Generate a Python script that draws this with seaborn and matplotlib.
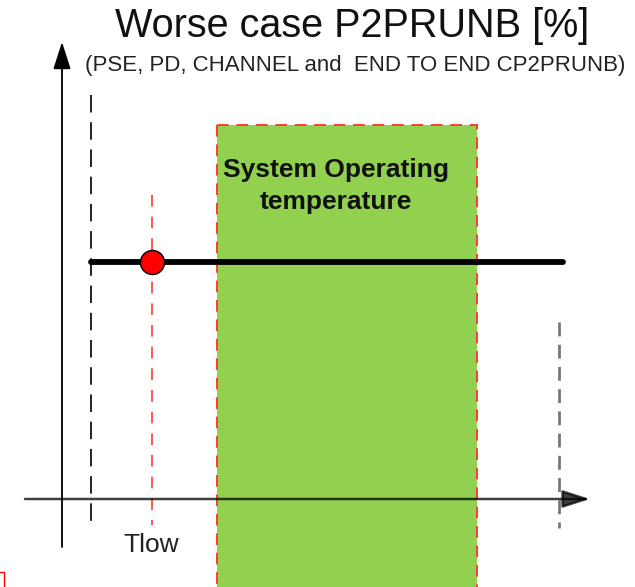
import matplotlib
matplotlib.use("Agg")
import matplotlib.pyplot as plt
import seaborn as sns
import pandas as pd
from matplotlib.patches import Rectangle

# ---- diagram data (pixel-like schematic units; y grows downward) ----
title_text = "Worse case P2PRUNB [%]"
subtitle_text = "(PSE, PD, CHANNEL and  END TO END CP2PRUNB)"
band_label = "System Operating\ntemperature"
tlow_label = "Tlow"

axis_origin = [62, 499]          # x of vertical axis, y of horizontal axis
axis_ends = [590, 42]            # arrow tips (x-axis tip x, y-axis tip y)
axis_starts = [25, 547]          # x-axis start x, y-axis bottom y

t_min_dash = 91                  # black dashed limit
t_low = 152                      # Tlow
band_range = [217, 477]          # system operating temperature range
t_max_dash = 559                 # grey dashed limit

black_dash_span = [95, 525]
red_dash_span = [195, 525]
grey_dash_span = [322, 528]
band_top = 125

level_x = [91, 563]
level_y = [262, 262]
point_x = [152]
point_y = [262]

sns.set_theme(style="white")
plt.rcParams['font.family'] = ['Liberation Sans', 'DejaVu Sans']

fig = plt.figure(figsize=(6.35, 5.87), dpi=100)
ax = fig.add_axes([0, 0, 1, 1])

# green band
ax.add_patch(Rectangle((band_range[0], band_top), band_range[1] - band_range[0],
                       600 - band_top, facecolor="#92D050", edgecolor="#FF3B30",
                       lw=1.4, ls=(0, (6, 4)), zorder=1))

# vertical dashed limits
ax.vlines([t_min_dash], black_dash_span[0], black_dash_span[1], colors="#222222",
          lw=1.4, linestyles=[(0, (9, 5))], zorder=2)
ax.vlines([t_low], red_dash_span[0], red_dash_span[1], colors="#FF3B30",
          lw=1.2, linestyles=[(0, (7, 6))], zorder=2)
ax.vlines([t_max_dash], grey_dash_span[0], grey_dash_span[1], colors="#777777",
          lw=2.0, linestyles=[(0, (5, 3))], zorder=2)

# axes arrows
ax.annotate("", xy=(axis_origin[0], axis_ends[1]), xytext=(axis_origin[0], axis_starts[1]),
            arrowprops=dict(arrowstyle="-|>,head_length=1.4,head_width=0.45",
                            color="black", lw=1.3, shrinkA=0, shrinkB=0), zorder=3)
ax.annotate("", xy=(axis_ends[0], axis_origin[1]), xytext=(axis_starts[0], axis_origin[1]),
            arrowprops=dict(arrowstyle="-|>,head_length=1.4,head_width=0.45",
                            color="black", alpha=0.75, lw=1.8, shrinkA=0, shrinkB=0), zorder=3)

# level line and point
df_line = pd.DataFrame({"x": level_x, "y": level_y})
sns.lineplot(data=df_line, x="x", y="y", color="black", lw=4.2, ax=ax,
             solid_capstyle="round", zorder=4, legend=False)
df_pt = pd.DataFrame({"x": point_x, "y": point_y})
sns.scatterplot(data=df_pt, x="x", y="y", color="#FF0000", s=300, edgecolor="black",
                linewidth=1.0, ax=ax, zorder=5, legend=False)
ax.set_xlim(0, 635)
ax.set_ylim(587, 0)
ax.axis("off")

# texts
ax.text(352, 26, title_text, ha="center", va="center", fontsize=28.5, color="#111111")
ax.text(355, 66, subtitle_text, ha="center", va="center", fontsize=16, color="#222222")
ax.text(336, 186, band_label, ha="center", va="center", fontsize=19, fontweight="bold",
        color="#111111", linespacing=1.4)
ax.text(151, 545, tlow_label, ha="center", va="center", fontsize=19, color="#222222")

# small red fragment at bottom-left
ax.add_patch(Rectangle((-10, 572), 14, 30, facecolor="none", edgecolor="red", lw=1.0))

fig.savefig("out.png", dpi=100)
